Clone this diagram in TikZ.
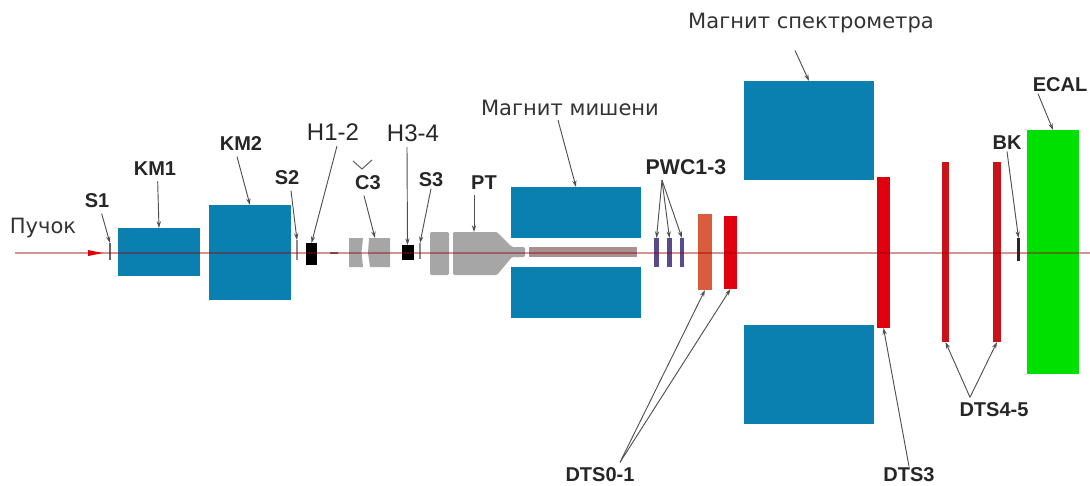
\documentclass[tikz,border=0pt]{standalone}
\usepackage{fontspec}
\setmainfont{Liberation Sans}
\newfontfamily\rusfont{DejaVu Sans}
\usetikzlibrary{arrows.meta}
\definecolor{magnetblue}{HTML}{0A80B0}
\definecolor{partgray}{HTML}{A6A6A6}
\definecolor{targetgray}{HTML}{A89090}
\definecolor{dtsred}{HTML}{E00010}
\definecolor{thinred}{HTML}{C81418}
\definecolor{dtsorange}{HTML}{D95C3C}
\definecolor{pwcviolet}{HTML}{5A4A8C}
\definecolor{ecalgreen}{HTML}{00E000}
\definecolor{leadergray}{HTML}{505050}
\tikzset{
    boxsize/.style 2 args={minimum width=#1*0.75pt, minimum height=#2*0.75pt},
    part/.style={inner sep=0pt, outer sep=0pt},
    magnet/.style={part, fill=magnetblue},
    tag/.style={font=\fontsize{15}{15}\selectfont\bfseries, text=black!85, inner sep=1pt},
    tagthin/.style={font=\fontsize{18}{18}\selectfont, text=black!85, inner sep=1pt},
    rustag/.style={font=\rusfont\fontsize{15.8}{15.8}\selectfont, text=black!80, inner sep=1pt},
    leader/.style={-{Stealth[length=5pt,width=3.2pt]}, leadergray, line width=0.7pt},
}
\begin{document}
\begin{tikzpicture}[x=0.75pt, y=-0.75pt]
    \useasboundingbox (0,0) rectangle (1090,486);
    % Magnets
    \node[magnet, boxsize={82}{48}] (km1) at (159,252) {};
    \node[magnet, boxsize={82}{95}] (km2) at (250,252.5) {};
    \node[magnet, boxsize={130}{51}] (tmupper) at (576,212.5) {};
    \node[magnet, boxsize={130}{51}] (tmlower) at (576,292.5) {};
    \node[magnet, boxsize={130}{99}] (smupper) at (809,130.5) {};
    \node[magnet, boxsize={130}{99}] (smlower) at (809,374.5) {};
    % Gray Parts
    \fill[partgray] (349,238) -- (363,238) -- (361.5,252) -- (363,267) -- (349,267) -- cycle;
    \fill[partgray] (369,238) -- (390,238) -- (390,267) -- (370,267) -- (368,253) -- cycle;
    \fill[partgray, rounded corners=1pt] (430,232) -- (449,232) -- (449,275) -- (430,275) -- cycle;
    \fill[partgray, rounded corners=1pt] (453,232) -- (497,232) -- (512,247) -- (525,247) -- (525,257) -- (512,257) -- (497,275) -- (453,275) -- cycle;
    \fill[targetgray] (529,247) rectangle (637,257);
    \draw[black!60, line width=0.8pt] (353,161) -- (362,169) -- (372,160);
    \coordinate (c3top) at (375,238);
    \coordinate (pttop) at (474,232);
    % Detectors
    \node[part, fill=black!60, boxsize={1.5}{17}] (s1) at (110,251.5) {};
    \node[part, fill=black!45, boxsize={1.5}{20}] (s2) at (297,250) {};
    \node[part, fill=black!45, boxsize={1.5}{16}] (s3) at (420,251) {};
    \node[part, fill=black, boxsize={11}{22}] (h12) at (311.5,254) {};
    \node[part, fill=black, boxsize={12}{15}] (h34) at (407.5,252.5) {};
    \node[part, fill=pwcviolet, boxsize={4.5}{29}] (pwc1) at (656.5,252.5) {};
    \node[part, fill=pwcviolet, boxsize={4.5}{29}] (pwc2) at (669.5,252.5) {};
    \node[part, fill=pwcviolet, boxsize={4.5}{29}] (pwc3) at (682,252.5) {};
    \node[part, fill=dtsorange, boxsize={14}{76}] (dts0) at (705,252) {};
    \node[part, fill=dtsred, boxsize={13}{73}] (dts1) at (730.5,252.5) {};
    \node[part, fill=dtsred, boxsize={13}{151}] (dts3) at (883.5,252.5) {};
    \node[part, fill=thinred, boxsize={7.5}{180}] (dts4) at (945.5,252) {};
    \node[part, fill=thinred, boxsize={7.5}{180}] (dts5) at (997,252) {};
    \node[part, fill=black!85, boxsize={3}{23}] (bk) at (1018.5,249.5) {};
    \node[part, fill=ecalgreen, boxsize={52}{244}] (ecal) at (1053,252) {};
    \draw[black!55, line width=0.8pt] (330,253) -- (338,253);
    % Beam
    \coordinate (beamstart) at (15,253);
    \coordinate (beamend) at (1090,253);
    \draw[red!60!black, opacity=0.42, line width=1pt] (beamstart) -- (beamend);
    \fill[red!90!black] (88,250) -- (103,253) -- (88,256) -- cycle;
    % Labels
    \node[rustag] (lblbeam) at (43,228) {Пучок};
    \node[rustag] (lbltm) at (570,108) {Магнит мишени};
    \node[rustag] (lblsm) at (811,23) {Магнит спектрометра};
    \node[tag] (lbls1) at (97,201) {S1};
    \node[tag] (lblkm1) at (155,169) {KM1};
    \node[tag] (lblkm2) at (241,144) {KM2};
    \node[tag] (lbls2) at (287,178) {S2};
    \node[tagthin] (lblh12) at (333,132) {H1-2};
    \node[tag] (lblc3) at (368,183) {C3};
    \node[tagthin] (lblh34) at (413,133) {H3-4};
    \node[tag] (lbls3) at (431,180) {S3};
    \node[tag] (lblpt) at (484,183) {PT};
    \node[tag, font=\fontsize{16}{16}\selectfont\bfseries] (lblpwc) at (686,167) {PWC1-3};
    \node[tag] (lblbk) at (1007,143) {BK};
    \node[tag] (lblecal) at (1060,85) {ECAL};
    \node[tag] (lbldtsa) at (600,475) {DTS0-1};
    \node[tag] (lbldtsb) at (909,475) {DTS3};
    \node[tag] (lbldtsc) at (994,410) {DTS4-5};
    % Left-hand Leaders
    \draw[leader] ([xshift=3.5pt,yshift=-3pt]lbls1.south) -- (s1.north);
    \draw[leader] ([xshift=2pt,yshift=-3pt]lblkm1.south) -- (km1.north);
    \draw[leader] ([xshift=-3pt,yshift=-3pt]lblkm2.south) -- (km2.north);
    \draw[leader] ([xshift=3pt,yshift=-3pt]lbls2.south) -- (s2.north);
    \draw[leader] ([xshift=3pt,yshift=-3pt]lblh12.south) -- (h12.north);
    \draw[leader] ([xshift=-3pt,yshift=-3pt]lblc3.south) -- (c3top);
    \draw[leader] ([xshift=-4.5pt,yshift=-3pt]lblh34.south) -- (h34.north);
    \draw[leader] (lbls3.south) -- (s3.north);
    \draw[leader] ([xshift=-7.5pt,yshift=-3pt]lblpt.south) -- (pttop);
    \draw[leader] ([xshift=-9pt,yshift=-2pt]lbltm.south) -- (tmupper.north);
    % Right-hand Leaders
    \draw[leader] ([xshift=-18pt,yshift=-3pt]lblpwc.south) -- (pwc1.north);
    \draw[leader] ([xshift=-18pt,yshift=-3pt]lblpwc.south) -- (pwc2.north);
    \draw[leader] ([xshift=-18pt,yshift=-3pt]lblpwc.south) -- (pwc3.north);
    \draw[leader] ([xshift=-12pt,yshift=-12pt]lblsm.south) -- (smupper.north);
    \draw[leader] ([xshift=15pt,yshift=3pt]lbldtsa.north) -- (dts0.south);
    \draw[leader] ([xshift=15pt,yshift=3pt]lbldtsa.north) -- (dts1.south);
    \draw[leader] (lbldtsb.north) -- (dts3.south);
    \draw[leader] ([xshift=-18pt,yshift=3pt]lbldtsc.north) -- (dts4.south);
    \draw[leader] ([xshift=-18pt,yshift=3pt]lbldtsc.north) -- (dts5.south);
    \draw[leader] (lblbk.south) -- (bk.north);
    \draw[leader] ([xshift=-16.5pt]lblecal.south) -- (ecal.north);
\end{tikzpicture}
\end{document}
